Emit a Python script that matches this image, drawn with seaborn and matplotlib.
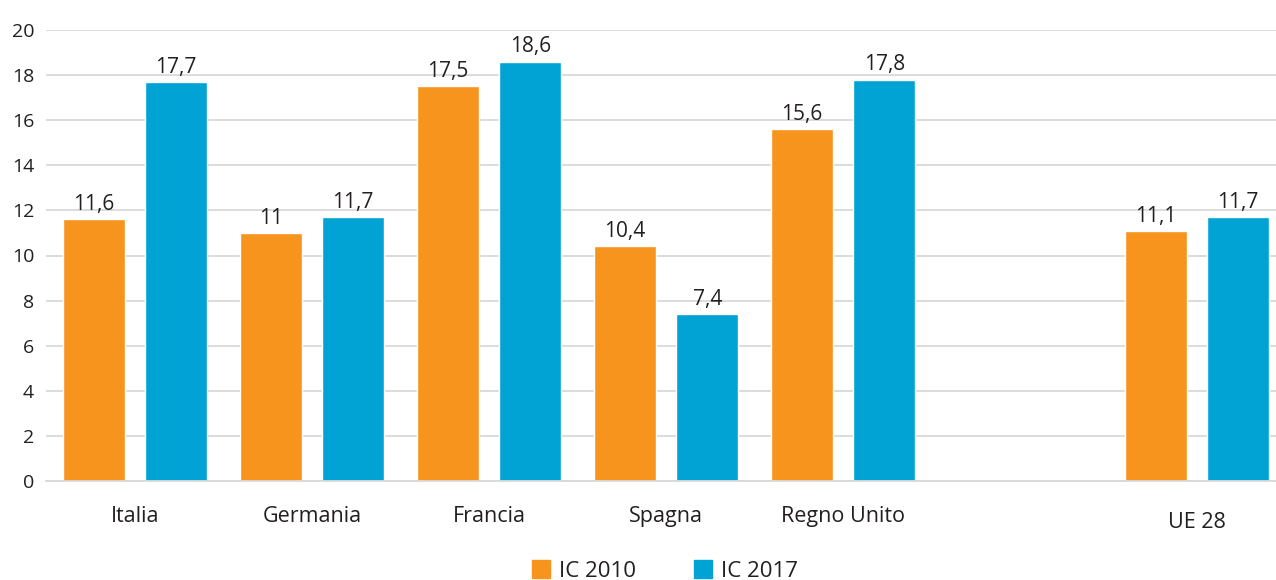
import pandas as pd
import matplotlib
matplotlib.use("Agg")
import matplotlib.pyplot as plt
import matplotlib.transforms as mtrans
import seaborn as sns

countries = ["Italia", "Germania", "Francia", "Spagna", "Regno Unito", "UE 28"]
ic_2010 = [11.6, 11.0, 17.5, 10.4, 15.6, 11.1]
ic_2017 = [17.7, 11.7, 18.6, 7.4, 17.8, 11.7]
series = ["IC 2010", "IC 2017"]
colors = ["#F7941D", "#00A3D4"]

# empty slot between Regno Unito and UE 28
order = ["Italia", "Germania", "Francia", "Spagna", "Regno Unito", " ", "UE 28"]

df = pd.DataFrame({
    "paese": countries * 2,
    "valore": ic_2010 + ic_2017,
    "serie": [series[0]] * len(countries) + [series[1]] * len(countries),
})

sns.set_style("white")
plt.rcParams["font.family"] = ["Open Sans", "DejaVu Sans"]
text_col = "#231F20"

fig = plt.figure(figsize=(12.76, 5.8), dpi=100)
ax = fig.add_axes([46 / 1276, 99 / 580, 1 - 46 / 1276, 451 / 580])

sns.barplot(data=df, x="paese", y="valore", hue="serie", order=order,
            hue_order=series, palette=colors, width=0.93, gap=0.24,
            saturation=1, ax=ax, legend=True)

ax.set_ylim(0, 20)
ax.set_xlim(-0.503, 6.446)
ax.set_yticks(range(0, 21, 2))
ax.yaxis.grid(True, color="#D9D9D9", linewidth=1.3)
ax.set_axisbelow(True)
for s in ["top", "right", "left"]:
    ax.spines[s].set_visible(False)
ax.spines["bottom"].set_color("#D9D9D9")
ax.spines["bottom"].set_linewidth(1.3)
ax.set_xlabel("")
ax.set_ylabel("")
ax.tick_params(axis="both", length=0, labelcolor=text_col)
ax.tick_params(axis="x", pad=18, labelsize=15.5)
ax.tick_params(axis="y", pad=8.5, labelsize=14)

for cont in ax.containers:
    ax.bar_label(cont, labels=[f"{v:g}".replace(".", ",") for v in cont.datavalues],
                 padding=3, fontsize=15, color=text_col)

# UE 28 label sits a bit lower
for lbl in ax.get_xticklabels():
    if lbl.get_text() == "UE 28":
        lbl.set_transform(lbl.get_transform() + mtrans.ScaledTranslation(0, -6 / 100, fig.dpi_scale_trans))

ax.legend_.remove()
handles = [plt.Rectangle((0, 0), 1, 1, color=c) for c in colors]
fig.legend(handles, series, loc="center", bbox_to_anchor=(0.521, 9 / 580), ncol=2,
           frameon=False, fontsize=16, handlelength=0.82, handleheight=0.82,
           columnspacing=2.6, handletextpad=0.4, labelcolor=text_col,
           borderpad=0, borderaxespad=0)

fig.savefig("out.png", dpi=100)
